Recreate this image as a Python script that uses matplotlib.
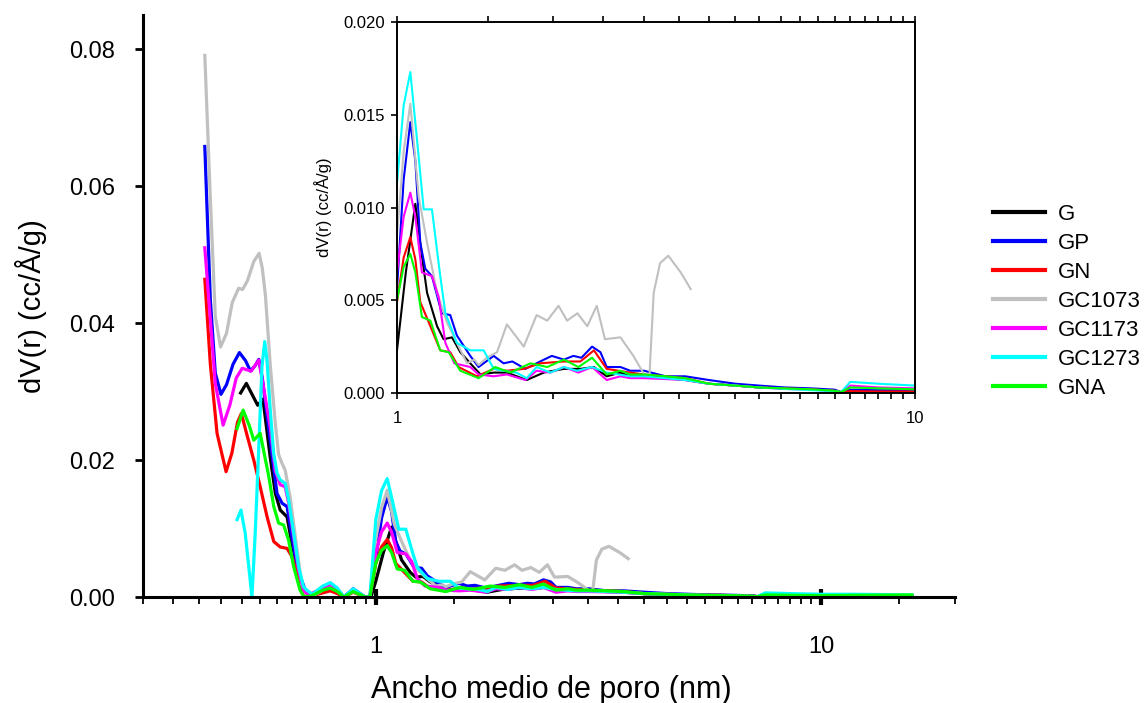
import matplotlib
matplotlib.use("Agg")
import matplotlib.pyplot as plt
from matplotlib.ticker import FixedLocator, FixedFormatter, NullFormatter

plt.rcParams['font.family'] = ['Liberation Sans', 'DejaVu Sans']

labels = ["G", "GP", "GN", "GC1073", "GC1173", "GC1273", "GNA"]
colors = ["#000000", "#0000ff", "#ff0000", "#c0c0c0", "#ff00ff", "#00ffff", "#00ff00"]

# pore width (nm) shared by the low tail of most series
tail_x = [3.0, 3.3, 3.6, 4.0, 4.5, 5.0, 5.6, 6.3, 7.0, 7.2, 7.5, 8.5, 10, 12, 16]

g_x = [0.497, 0.512, 0.543, 0.558, 0.579, 0.595, 0.610, 0.632, 0.648, 0.671, 0.694, 0.72,
       0.76, 0.79, 0.82, 0.848, 0.89, 0.946, 0.975, 1.0, 1.04, 1.085, 1.117, 1.143, 1.195,
       1.23, 1.277, 1.325, 1.385, 1.449, 1.537, 1.63, 1.78, 1.92, 2.1, 2.26, 2.4, 2.54,
       2.7, 2.82] + tail_x
g_y = [0.0298, 0.0312, 0.0280, 0.0289, 0.0205, 0.0151, 0.0127, 0.0117, 0.0078, 0.0035,
       0.0006, 0.0002, 0.0008, 0.0013, 0.0008, 0.0, 0.0008, 0.0, 0.0, 0.0023, 0.0065,
       0.0102, 0.0074, 0.0054, 0.0036, 0.0029, 0.0030, 0.0022, 0.0016, 0.0010, 0.0011,
       0.0011, 0.0007, 0.0011, 0.0013, 0.0013, 0.0014, 0.0009, 0.0011, 0.0009,
       0.0009, 0.0008, 0.0007, 0.0005, 0.0004, 0.0003, 0.00025, 0.0002, 0.00012, 0.00005,
       0.0001, 0.0001, 0.0001, 0.0001, 0.0001]

gp_x = [0.413, 0.425, 0.436, 0.449, 0.462, 0.478, 0.494, 0.51, 0.523, 0.536, 0.546, 0.556,
        0.584, 0.600, 0.616, 0.632, 0.648, 0.665, 0.694, 0.72, 0.76, 0.79, 0.82, 0.848,
        0.89, 0.946, 0.97, 1.0, 1.03, 1.061, 1.085, 1.109, 1.134, 1.168, 1.22, 1.267, 1.305,
        1.385, 1.437, 1.537, 1.606, 1.67, 1.77, 1.89, 1.99, 2.1, 2.19, 2.27, 2.38, 2.47,
        2.54, 2.7, 2.82] + tail_x
gp_y = [0.0658, 0.0434, 0.0327, 0.0296, 0.0310, 0.0340, 0.0357, 0.0345, 0.0330, 0.0338,
        0.0347, 0.0320, 0.0210, 0.0151, 0.0137, 0.0132, 0.0088, 0.0044, 0.0010, 0.0003,
        0.0012, 0.0016, 0.0010, 0.0, 0.0012, 0.0, 0.0, 0.0056, 0.0115, 0.0146, 0.0125,
        0.0081, 0.0067, 0.0063, 0.0043, 0.0042, 0.0031, 0.0020, 0.0014, 0.0020, 0.0016,
        0.0017, 0.0013, 0.0017, 0.0020, 0.0018, 0.0020, 0.0019, 0.0025, 0.0022, 0.0014,
        0.0014, 0.0012,
        0.0012, 0.0009, 0.0009, 0.0007, 0.0005, 0.0004, 0.0003, 0.00025, 0.00018, 0.00005,
        0.00018, 0.00015, 0.00015, 0.00012, 0.0001]

gn_x = [0.413, 0.425, 0.44, 0.461, 0.475, 0.489, 0.499, 0.512, 0.532, 0.550, 0.570, 0.590,
        0.610, 0.632, 0.648, 0.665, 0.682, 0.70, 0.76, 0.79, 0.82, 0.848, 0.89, 0.946,
        0.97, 1.0, 1.03, 1.061, 1.085, 1.109, 1.16, 1.212, 1.267, 1.315, 1.427, 1.537, 1.63,
        1.757, 1.89, 2.1, 2.26, 2.4, 2.54, 2.82] + tail_x
gn_y = [0.0464, 0.0340, 0.0239, 0.0183, 0.0210, 0.0255, 0.0268, 0.0240, 0.0200, 0.0161,
        0.0117, 0.0081, 0.0073, 0.0071, 0.0059, 0.0035, 0.0010, 0.0, 0.0006, 0.0009,
        0.0005, 0.0, 0.0007, 0.0, 0.0, 0.0049, 0.0073, 0.0084, 0.0072, 0.0049, 0.0036,
        0.0023, 0.0022, 0.0014, 0.0009, 0.0013, 0.0012, 0.0013, 0.0016, 0.0017, 0.0017,
        0.0023, 0.0013, 0.0011,
        0.0010, 0.0009, 0.0008, 0.0005, 0.0004, 0.0003, 0.00025, 0.0002, 0.00012, 0.00005,
        0.0001, 0.00008, 0.00008, 0.00008, 0.00008]

gc1073_x = [0.413, 0.4245, 0.436, 0.448, 0.462, 0.476, 0.492, 0.502, 0.515, 0.532, 0.547,
            0.556, 0.565, 0.579, 0.595, 0.605, 0.616, 0.626, 0.642, 0.659, 0.682, 0.70,
            0.72, 0.76, 0.79, 0.82, 0.848, 0.89, 0.946, 0.97, 1.0, 1.03, 1.061, 1.101,
            1.143, 1.195, 1.249, 1.305, 1.365, 1.41, 1.437, 1.49, 1.56, 1.63, 1.757, 1.86,
            1.95, 2.05, 2.13, 2.23, 2.33, 2.43, 2.52, 2.7, 2.86, 3.0, 3.07, 3.13, 3.22,
            3.34, 3.53, 3.69]
gc1073_y = [0.0791, 0.0590, 0.0410, 0.0365, 0.0385, 0.0430, 0.0451, 0.0449, 0.0462,
            0.0490, 0.0502, 0.0480, 0.0441, 0.0341, 0.0252, 0.0208, 0.0195, 0.0185, 0.0146,
            0.0090, 0.0018, 0.0002, 0.0001, 0.0010, 0.0015, 0.0009, 0.0, 0.0008, 0.0, 0.0,
            0.0085, 0.0130, 0.0156, 0.0106, 0.0081, 0.0054, 0.0038, 0.0027, 0.0016, 0.0018,
            0.0015, 0.0019, 0.0022, 0.0037, 0.0025, 0.0042, 0.0039, 0.0047, 0.0039, 0.0043,
            0.0036, 0.0047, 0.0029, 0.0030, 0.0020, 0.0010, 0.0008, 0.0054, 0.0070, 0.0074,
            0.0065, 0.0056]

gc1173_x = [0.413, 0.436, 0.454, 0.47, 0.486, 0.501, 0.5185, 0.525, 0.546, 0.555, 0.579,
            0.5945, 0.610, 0.626, 0.637, 0.654, 0.671, 0.688, 0.706, 0.76, 0.79, 0.82,
            0.848, 0.89, 0.946, 0.97, 1.0, 1.03, 1.061, 1.085, 1.117, 1.168, 1.203, 1.24,
            1.29, 1.385, 1.437, 1.537, 1.63, 1.77, 1.86, 1.977, 2.1, 2.24, 2.38, 2.54, 2.7,
            2.82] + tail_x
gc1173_y = [0.0510, 0.0312, 0.0251, 0.0280, 0.0320, 0.0334, 0.0331, 0.0330, 0.0346,
            0.0320, 0.0249, 0.0185, 0.0164, 0.0161, 0.0137, 0.0088, 0.0039, 0.0010, 0.0003,
            0.0013, 0.0018, 0.0011, 0.0, 0.0010, 0.0, 0.0, 0.0065, 0.0095, 0.0108, 0.0095,
            0.0065, 0.0063, 0.0052, 0.0027, 0.0016, 0.0014, 0.0010, 0.0009, 0.0010, 0.0007,
            0.0012, 0.0011, 0.0014, 0.0011, 0.0014, 0.0007, 0.0009, 0.0008,
            0.0008, 0.00075, 0.0007, 0.0005, 0.0004, 0.0003, 0.00022, 0.00018, 0.0001,
            0.00005, 0.0004, 0.0003, 0.00025, 0.0002, 0.0002]

gc1273_x = [0.488, 0.498, 0.509, 0.5185, 0.527, 0.536, 0.5457, 0.555, 0.563, 0.5696, 0.5794,
            0.5896, 0.600, 0.610, 0.626, 0.637, 0.654, 0.671, 0.688, 0.70, 0.72, 0.76, 0.79,
            0.82, 0.848, 0.89, 0.946, 0.97, 1.0, 1.03, 1.061, 1.09, 1.126, 1.168, 1.212,
            1.24, 1.305, 1.385, 1.47, 1.537, 1.606, 1.70, 1.78, 1.86, 1.977, 2.1, 2.225,
            2.38, 2.54, 2.82] + tail_x
gc1273_y = [0.0113, 0.0127, 0.0093, 0.0044, 0.0, 0.0093, 0.0215, 0.0336, 0.0373, 0.0346,
            0.0273, 0.0210, 0.0181, 0.0171, 0.0166, 0.0142, 0.0093, 0.0044, 0.0015, 0.0010,
            0.0004, 0.0016, 0.0021, 0.0013, 0.0, 0.0012, 0.0, 0.0, 0.0113, 0.0155, 0.0173,
            0.0140, 0.0099, 0.0099, 0.0063, 0.0043, 0.0027, 0.0023, 0.0023, 0.0013, 0.0012,
            0.0011, 0.0008, 0.0014, 0.0011, 0.0014, 0.0012, 0.0014, 0.0011, 0.0009,
            0.0009, 0.0008, 0.0007, 0.0005, 0.0004, 0.0003, 0.00022, 0.00015, 0.0001,
            0.00005, 0.0006, 0.0005, 0.0004, 0.0004, 0.0003]

gna_x = [0.488, 0.5035, 0.52, 0.532, 0.550, 0.575, 0.590, 0.605, 0.621, 0.637, 0.654,
         0.676, 0.69, 0.72, 0.76, 0.79, 0.82, 0.848, 0.89, 0.946, 0.97, 1.0, 1.03, 1.061,
         1.085, 1.117, 1.16, 1.212, 1.258, 1.325, 1.437, 1.547, 1.655, 1.81, 1.95, 2.1,
         2.24, 2.38, 2.54, 2.7, 2.82] + tail_x
gna_y = [0.0246, 0.0273, 0.0250, 0.0229, 0.0239, 0.0176, 0.0132, 0.0108, 0.0105, 0.0083,
         0.0044, 0.0010, 0.0, 0.0002, 0.0010, 0.0013, 0.0008, 0.0, 0.0008, 0.0, 0.0,
         0.0050, 0.0068, 0.0075, 0.0065, 0.0041, 0.0039, 0.0023, 0.0022, 0.0012, 0.0008,
         0.0014, 0.0011, 0.0016, 0.0014, 0.0018, 0.0014, 0.0019, 0.0010, 0.0012, 0.0010,
         0.0010, 0.0009, 0.0008, 0.0005, 0.0004, 0.0003, 0.00025, 0.0002, 0.00012,
         0.00005, 0.0003, 0.00025, 0.0002, 0.00025, 0.0003]

series_x = [g_x, gp_x, gn_x, gc1073_x, gc1173_x, gc1273_x, gna_x]
series_y = [g_y, gp_y, gn_y, gc1073_y, gc1173_y, gc1273_y, gna_y]

main_minor = [0.3, 0.35, 0.4, 0.45, 0.5, 0.55, 0.6, 0.65, 0.7, 0.75, 0.8, 0.85, 0.9, 0.95,
              1.5, 2, 2.5, 3, 3.5, 4, 4.5, 5, 5.5, 6, 6.5, 7, 7.5, 8, 8.5, 9, 9.5, 15, 20]
inset_minor = [1.5, 2, 2.5, 3, 3.5, 4, 4.5, 5, 5.5, 6, 6.5, 7, 7.5, 8, 8.5, 9, 9.5]

W, H = 1145, 703
fig = plt.figure(figsize=(W / 100, H / 100), dpi=100)

# main plot
ax = fig.add_axes([143 / W, 1 - 597 / H, (955 - 143) / W, (597 - 15) / H])
for x, y, c, lab in zip(series_x, series_y, colors, labels):
    ax.plot(x, y, color=c, lw=2.3, label=lab, solid_joinstyle='round')
ax.set_xscale('log')
ax.set_xlim(0.3, 20)
ax.set_ylim(0, 0.085)
ax.spines['top'].set_visible(False)
ax.spines['right'].set_visible(False)
ax.spines['left'].set_linewidth(2.2)
ax.spines['bottom'].set_linewidth(2.2)
ax.xaxis.set_major_locator(FixedLocator([1, 10]))
ax.xaxis.set_major_formatter(FixedFormatter(['1', '10']))
ax.xaxis.set_minor_locator(FixedLocator(main_minor))
ax.xaxis.set_minor_formatter(NullFormatter())
ax.set_yticks([0, 0.02, 0.04, 0.06, 0.08])
ax.set_yticklabels(['0.00', '0.02', '0.04', '0.06', '0.08'])
ax.tick_params(axis='x', which='major', direction='inout', length=12, width=3,
               labelsize=17, pad=22)
ax.tick_params(axis='x', which='minor', direction='out', length=5, width=1.3)
ax.tick_params(axis='y', direction='out', length=6, width=2, labelsize=17, pad=14)
ax.set_xlabel('Ancho medio de poro (nm)', fontsize=22)
ax.xaxis.set_label_coords(0.503, -0.134)
ax.set_ylabel('dV(r) (cc/Å/g)', fontsize=21, labelpad=16)

# inset
ax2 = fig.add_axes([397 / W, 1 - 393 / H, (915 - 397) / W, (393 - 22) / H])
ax2.set_facecolor('white')
for x, y, c in zip(series_x, series_y, colors):
    ax2.plot(x, y, color=c, lw=1.5, solid_joinstyle='round')
ax2.set_xscale('log')
ax2.set_xlim(1, 10)
ax2.set_ylim(0, 0.02)
for s in ax2.spines.values():
    s.set_linewidth(1.4)
ax2.xaxis.set_major_locator(FixedLocator([1, 10]))
ax2.xaxis.set_major_formatter(FixedFormatter(['1', '10']))
ax2.xaxis.set_minor_locator(FixedLocator(inset_minor))
ax2.xaxis.set_minor_formatter(NullFormatter())
ax2.set_yticks([0, 0.005, 0.01, 0.015, 0.02])
ax2.set_yticklabels(['0.000', '0.005', '0.010', '0.015', '0.020'])
ax2.tick_params(axis='x', which='both', direction='out', top=True, length=4, width=1.2,
                labelsize=12, pad=9)
ax2.tick_params(axis='y', direction='out', length=4, width=1.2, labelsize=12, pad=5)
ax2.set_ylabel('dV(r) (cc/Å/g)', fontsize=12, labelpad=8)

handles, labs = ax.get_legend_handles_labels()
leg = fig.legend(handles, labs, loc='upper left', bbox_to_anchor=(993 / W, 1 - 204 / H),
                 frameon=False, fontsize=16, handlelength=2.35, handletextpad=0.55,
                 labelspacing=0.36, borderpad=0, borderaxespad=0)
for line in leg.get_lines():
    line.set_linewidth(3)

fig.savefig('out.png', dpi=100)
